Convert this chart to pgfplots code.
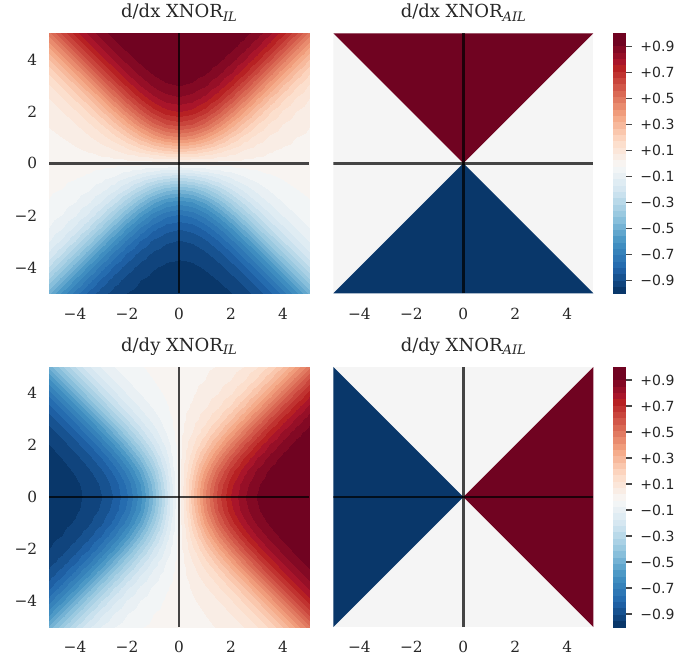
\documentclass[border=0pt]{standalone}
\usepackage{fontspec}
\setmainfont{DejaVu Serif}
\setsansfont{DejaVu Sans}
\usepackage{pgfplots}
\usepackage{pgfplotstable}
\pgfplotsset{compat=1.18}
\definecolor{txt}{RGB}{38,38,38}
\definecolor{cpos}{RGB}{112,3,33}
\definecolor{cneg}{RGB}{9,55,106}
\definecolor{czero}{RGB}{245,245,245}
\newcommand{\sub}[1]{\raisebox{-2.5pt}{\fontsize{9.8}{10}\selectfont\itshape #1}}
\pgfplotsset{
 colormap={rdbu}{rgb255=(9,55,106) rgb255=(16,68,125) rgb255=(23,82,144) rgb255=(30,95,163)
  rgb255=(37,108,175) rgb255=(46,119,181) rgb255=(54,130,186) rgb255=(63,141,192)
  rgb255=(77,153,198) rgb255=(97,166,205) rgb255=(116,178,212) rgb255=(136,191,219)
  rgb255=(154,201,224) rgb255=(170,209,229) rgb255=(185,217,233) rgb255=(201,225,238)
  rgb255=(214,231,241) rgb255=(223,236,243) rgb255=(233,240,244) rgb255=(242,245,246)
  rgb255=(248,244,241) rgb255=(249,237,229) rgb255=(251,230,217) rgb255=(252,223,205)
  rgb255=(252,212,190) rgb255=(250,199,173) rgb255=(247,185,156) rgb255=(245,172,139)
  rgb255=(240,156,123) rgb255=(233,139,110) rgb255=(225,122,97) rgb255=(218,105,84)
  rgb255=(210,87,73) rgb255=(201,69,60) rgb255=(192,51,48) rgb255=(183,33,35)
  rgb255=(169,21,42) rgb255=(150,15,39) rgb255=(131,9,36) rgb255=(112,3,33)
  rgb255=(112,3,33)},
 panel/.style={scale only axis, width=195pt, height=195pt,
  xmin=-5, xmax=5, ymin=-5, ymax=5,
  axis line style={draw=none}, tick style={draw=none},
  xtick={-4,-2,0,2,4}, xticklabels={−4,−2,0,2,4},
  ytick={-4,-2,0,2,4}, yticklabels={−4,−2,0,2,4},
  ticklabel style={font=\fontsize{11.5}{13}\selectfont, text=txt},
  xticklabel style={yshift=-7.3pt},
  yticklabel style={xshift=-5.3pt},
  title style={at={(0.5,1)}, anchor=base, yshift=5.7pt, font=\fontsize{13.5}{16}\selectfont, text=txt},
  colormap name=rdbu, colormap access=piecewise constant,
  point meta min=-1, point meta max=1},
 axl/.style={black, opacity=0.72, line width=1.8pt},
 cbar/.style={scale only axis, width=9.3pt, height=195pt,
  xmin=0, xmax=1, ymin=-1, ymax=1,
  axis line style={draw=none}, xtick=\empty,
  ytick={-0.9,-0.7,-0.5,-0.3,-0.1,0.1,0.3,0.5,0.7,0.9},
  yticklabels={−0.9,−0.7,−0.5,−0.3,−0.1,+0.1,+0.3,+0.5,+0.7,+0.9},
  ytick pos=right, yticklabel pos=right, tick align=outside,
  major tick length=4.5pt, tick style={color=txt!85, line width=0.9pt},
  yticklabel style={font=\sffamily\fontsize{10.5}{12}\selectfont, text=txt, xshift=3pt},
  colormap name=rdbu, colormap access=piecewise constant,
  point meta min=-1, point meta max=1}
}
\pgfplotstableread[row sep=\\]{
x y z\\
-5 -5 -0.500\\-4.5 -5 -0.622\\-4 -5 -0.731\\-3.5 -5 -0.817\\-3 -5 -0.880\\-2.5 -5 -0.924\\-2 -5 -0.952\\-1.5 -5 -0.969\\-1 -5 -0.980\\-0.5 -5 -0.985\\0 -5 -0.987\\0.5 -5 -0.985\\1 -5 -0.980\\1.5 -5 -0.969\\2 -5 -0.952\\2.5 -5 -0.924\\3 -5 -0.880\\3.5 -5 -0.817\\4 -5 -0.731\\4.5 -5 -0.622\\5 -5 -0.500\\
-5 -4.5 -0.377\\-4.5 -4.5 -0.500\\-4 -4.5 -0.622\\-3.5 -4.5 -0.731\\-3 -4.5 -0.817\\-2.5 -4.5 -0.880\\-2 -4.5 -0.923\\-1.5 -4.5 -0.950\\-1 -4.5 -0.967\\-0.5 -4.5 -0.975\\0 -4.5 -0.978\\0.5 -4.5 -0.975\\1 -4.5 -0.967\\1.5 -4.5 -0.950\\2 -4.5 -0.923\\2.5 -4.5 -0.880\\3 -4.5 -0.817\\3.5 -4.5 -0.731\\4 -4.5 -0.622\\4.5 -4.5 -0.500\\5 -4.5 -0.377\\
-5 -4 -0.269\\-4.5 -4 -0.377\\-4 -4 -0.500\\-3.5 -4 -0.622\\-3 -4 -0.730\\-2.5 -4 -0.816\\-2 -4 -0.878\\-1.5 -4 -0.920\\-1 -4 -0.946\\-0.5 -4 -0.960\\0 -4 -0.964\\0.5 -4 -0.960\\1 -4 -0.946\\1.5 -4 -0.920\\2 -4 -0.878\\2.5 -4 -0.816\\3 -4 -0.730\\3.5 -4 -0.622\\4 -4 -0.500\\4.5 -4 -0.377\\5 -4 -0.269\\
-5 -3.5 -0.182\\-4.5 -3.5 -0.269\\-4 -3.5 -0.377\\-3.5 -3.5 -0.499\\-3 -3.5 -0.621\\-2.5 -3.5 -0.729\\-2 -3.5 -0.814\\-1.5 -3.5 -0.874\\-1 -3.5 -0.913\\-0.5 -3.5 -0.935\\0 -3.5 -0.941\\0.5 -3.5 -0.935\\1 -3.5 -0.913\\1.5 -3.5 -0.874\\2 -3.5 -0.814\\2.5 -3.5 -0.729\\3 -3.5 -0.621\\3.5 -3.5 -0.499\\4 -3.5 -0.377\\4.5 -3.5 -0.269\\5 -3.5 -0.182\\
-5 -3 -0.119\\-4.5 -3 -0.182\\-4 -3 -0.268\\-3.5 -3 -0.376\\-3 -3 -0.498\\-2.5 -3 -0.618\\-2 -3 -0.724\\-1.5 -3 -0.807\\-1 -3 -0.863\\-0.5 -3 -0.895\\0 -3 -0.905\\0.5 -3 -0.895\\1 -3 -0.863\\1.5 -3 -0.807\\2 -3 -0.724\\2.5 -3 -0.618\\3 -3 -0.498\\3.5 -3 -0.376\\4 -3 -0.268\\4.5 -3 -0.182\\5 -3 -0.119\\
-5 -2.5 -0.075\\-4.5 -2.5 -0.118\\-4 -2.5 -0.181\\-3.5 -2.5 -0.266\\-3 -2.5 -0.373\\-2.5 -2.5 -0.493\\-2 -2.5 -0.611\\-1.5 -2.5 -0.713\\-1 -2.5 -0.788\\-0.5 -2.5 -0.833\\0 -2.5 -0.848\\0.5 -2.5 -0.833\\1 -2.5 -0.788\\1.5 -2.5 -0.713\\2 -2.5 -0.611\\2.5 -2.5 -0.493\\3 -2.5 -0.373\\3.5 -2.5 -0.266\\4 -2.5 -0.181\\4.5 -2.5 -0.118\\5 -2.5 -0.075\\
-5 -2 -0.047\\-4.5 -2 -0.074\\-4 -2 -0.117\\-3.5 -2 -0.178\\-3 -2 -0.262\\-2.5 -2 -0.367\\-2 -2 -0.482\\-1.5 -2 -0.593\\-1 -2 -0.684\\-0.5 -2 -0.742\\0 -2 -0.762\\0.5 -2 -0.742\\1 -2 -0.684\\1.5 -2 -0.593\\2 -2 -0.482\\2.5 -2 -0.367\\3 -2 -0.262\\3.5 -2 -0.178\\4 -2 -0.117\\4.5 -2 -0.074\\5 -2 -0.047\\
-5 -1.5 -0.028\\-4.5 -1.5 -0.045\\-4 -1.5 -0.072\\-3.5 -1.5 -0.113\\-3 -1.5 -0.171\\-2.5 -1.5 -0.251\\-2 -1.5 -0.348\\-1.5 -1.5 -0.453\\-1 -1.5 -0.547\\-0.5 -1.5 -0.612\\0 -1.5 -0.635\\0.5 -1.5 -0.612\\1 -1.5 -0.547\\1.5 -1.5 -0.453\\2 -1.5 -0.348\\2.5 -1.5 -0.251\\3 -1.5 -0.171\\3.5 -1.5 -0.113\\4 -1.5 -0.072\\4.5 -1.5 -0.045\\5 -1.5 -0.028\\
-5 -1 -0.016\\-4.5 -1 -0.025\\-4 -1 -0.041\\-3.5 -1 -0.065\\-3 -1 -0.101\\-2.5 -1 -0.153\\-2 -1 -0.222\\-1.5 -1 -0.302\\-1 -1 -0.381\\-0.5 -1 -0.440\\0 -1 -0.462\\0.5 -1 -0.440\\1 -1 -0.381\\1.5 -1 -0.302\\2 -1 -0.222\\2.5 -1 -0.153\\3 -1 -0.101\\3.5 -1 -0.065\\4 -1 -0.041\\4.5 -1 -0.025\\5 -1 -0.016\\
-5 -0.5 -0.007\\-4.5 -0.5 -0.011\\-4 -0.5 -0.018\\-3.5 -0.5 -0.029\\-3 -0.5 -0.047\\-2.5 -0.5 -0.072\\-2 -0.5 -0.107\\-1.5 -0.5 -0.150\\-1 -0.5 -0.195\\-0.5 -0.5 -0.231\\0 -0.5 -0.245\\0.5 -0.5 -0.231\\1 -0.5 -0.195\\1.5 -0.5 -0.150\\2 -0.5 -0.107\\2.5 -0.5 -0.072\\3 -0.5 -0.047\\3.5 -0.5 -0.029\\4 -0.5 -0.018\\4.5 -0.5 -0.011\\5 -0.5 -0.007\\
-5 0 0\\-4.5 0 0\\-4 0 0\\-3.5 0 0\\-3 0 0\\-2.5 0 0\\-2 0 0\\-1.5 0 0\\-1 0 0\\-0.5 0 0\\0 0 0\\0.5 0 0\\1 0 0\\1.5 0 0\\2 0 0\\2.5 0 0\\3 0 0\\3.5 0 0\\4 0 0\\4.5 0 0\\5 0 0\\
-5 0.5 0.007\\-4.5 0.5 0.011\\-4 0.5 0.018\\-3.5 0.5 0.029\\-3 0.5 0.047\\-2.5 0.5 0.072\\-2 0.5 0.107\\-1.5 0.5 0.150\\-1 0.5 0.195\\-0.5 0.5 0.231\\0 0.5 0.245\\0.5 0.5 0.231\\1 0.5 0.195\\1.5 0.5 0.150\\2 0.5 0.107\\2.5 0.5 0.072\\3 0.5 0.047\\3.5 0.5 0.029\\4 0.5 0.018\\4.5 0.5 0.011\\5 0.5 0.007\\
-5 1 0.016\\-4.5 1 0.025\\-4 1 0.041\\-3.5 1 0.065\\-3 1 0.101\\-2.5 1 0.153\\-2 1 0.222\\-1.5 1 0.302\\-1 1 0.381\\-0.5 1 0.440\\0 1 0.462\\0.5 1 0.440\\1 1 0.381\\1.5 1 0.302\\2 1 0.222\\2.5 1 0.153\\3 1 0.101\\3.5 1 0.065\\4 1 0.041\\4.5 1 0.025\\5 1 0.016\\
-5 1.5 0.028\\-4.5 1.5 0.045\\-4 1.5 0.072\\-3.5 1.5 0.113\\-3 1.5 0.171\\-2.5 1.5 0.251\\-2 1.5 0.348\\-1.5 1.5 0.453\\-1 1.5 0.547\\-0.5 1.5 0.612\\0 1.5 0.635\\0.5 1.5 0.612\\1 1.5 0.547\\1.5 1.5 0.453\\2 1.5 0.348\\2.5 1.5 0.251\\3 1.5 0.171\\3.5 1.5 0.113\\4 1.5 0.072\\4.5 1.5 0.045\\5 1.5 0.028\\
-5 2 0.047\\-4.5 2 0.074\\-4 2 0.117\\-3.5 2 0.178\\-3 2 0.262\\-2.5 2 0.367\\-2 2 0.482\\-1.5 2 0.593\\-1 2 0.684\\-0.5 2 0.742\\0 2 0.762\\0.5 2 0.742\\1 2 0.684\\1.5 2 0.593\\2 2 0.482\\2.5 2 0.367\\3 2 0.262\\3.5 2 0.178\\4 2 0.117\\4.5 2 0.074\\5 2 0.047\\
-5 2.5 0.075\\-4.5 2.5 0.118\\-4 2.5 0.181\\-3.5 2.5 0.266\\-3 2.5 0.373\\-2.5 2.5 0.493\\-2 2.5 0.611\\-1.5 2.5 0.713\\-1 2.5 0.788\\-0.5 2.5 0.833\\0 2.5 0.848\\0.5 2.5 0.833\\1 2.5 0.788\\1.5 2.5 0.713\\2 2.5 0.611\\2.5 2.5 0.493\\3 2.5 0.373\\3.5 2.5 0.266\\4 2.5 0.181\\4.5 2.5 0.118\\5 2.5 0.075\\
-5 3 0.119\\-4.5 3 0.182\\-4 3 0.268\\-3.5 3 0.376\\-3 3 0.498\\-2.5 3 0.618\\-2 3 0.724\\-1.5 3 0.807\\-1 3 0.863\\-0.5 3 0.895\\0 3 0.905\\0.5 3 0.895\\1 3 0.863\\1.5 3 0.807\\2 3 0.724\\2.5 3 0.618\\3 3 0.498\\3.5 3 0.376\\4 3 0.268\\4.5 3 0.182\\5 3 0.119\\
-5 3.5 0.182\\-4.5 3.5 0.269\\-4 3.5 0.377\\-3.5 3.5 0.499\\-3 3.5 0.621\\-2.5 3.5 0.729\\-2 3.5 0.814\\-1.5 3.5 0.874\\-1 3.5 0.913\\-0.5 3.5 0.935\\0 3.5 0.941\\0.5 3.5 0.935\\1 3.5 0.913\\1.5 3.5 0.874\\2 3.5 0.814\\2.5 3.5 0.729\\3 3.5 0.621\\3.5 3.5 0.499\\4 3.5 0.377\\4.5 3.5 0.269\\5 3.5 0.182\\
-5 4 0.269\\-4.5 4 0.377\\-4 4 0.500\\-3.5 4 0.622\\-3 4 0.730\\-2.5 4 0.816\\-2 4 0.878\\-1.5 4 0.920\\-1 4 0.946\\-0.5 4 0.960\\0 4 0.964\\0.5 4 0.960\\1 4 0.946\\1.5 4 0.920\\2 4 0.878\\2.5 4 0.816\\3 4 0.730\\3.5 4 0.622\\4 4 0.500\\4.5 4 0.377\\5 4 0.269\\
-5 4.5 0.377\\-4.5 4.5 0.500\\-4 4.5 0.622\\-3.5 4.5 0.731\\-3 4.5 0.817\\-2.5 4.5 0.880\\-2 4.5 0.923\\-1.5 4.5 0.950\\-1 4.5 0.967\\-0.5 4.5 0.975\\0 4.5 0.978\\0.5 4.5 0.975\\1 4.5 0.967\\1.5 4.5 0.950\\2 4.5 0.923\\2.5 4.5 0.880\\3 4.5 0.817\\3.5 4.5 0.731\\4 4.5 0.622\\4.5 4.5 0.500\\5 4.5 0.377\\
-5 5 0.500\\-4.5 5 0.622\\-4 5 0.731\\-3.5 5 0.817\\-3 5 0.880\\-2.5 5 0.924\\-2 5 0.952\\-1.5 5 0.969\\-1 5 0.980\\-0.5 5 0.985\\0 5 0.987\\0.5 5 0.985\\1 5 0.980\\1.5 5 0.969\\2 5 0.952\\2.5 5 0.924\\3 5 0.880\\3.5 5 0.817\\4 5 0.731\\4.5 5 0.622\\5 5 0.500\\
}\tbl
\begin{document}
\begin{tikzpicture}
\path[use as bounding box] (0,0) rectangle (512.25pt,493.5pt);
% top left
\begin{axis}[panel, at={(36.75pt,273.5pt)}, anchor=south west, title={d/dx XNOR\sub{IL}}]
\addplot[surf, shader=interp, mesh/rows=21, mesh/cols=21, point meta=\thisrow{z}] table[x=x, y=y] {\tbl};
\addplot[axl] coordinates {(-5,0) (5,0)};
\addplot[axl] coordinates {(0,-5) (0,5)};
\end{axis}
% top right
\begin{axis}[panel, at={(250pt,273.5pt)}, anchor=south west, ytick=\empty, title={d/dx XNOR\sub{AIL}}]
\addplot[fill=czero, draw=none] coordinates {(-5,-5) (5,-5) (5,5) (-5,5)} -- cycle;
\addplot[fill=cpos, draw=none] coordinates {(-5,5) (5,5) (0,0)} -- cycle;
\addplot[fill=cneg, draw=none] coordinates {(-5,-5) (5,-5) (0,0)} -- cycle;
\addplot[axl] coordinates {(-5,0) (5,0)};
\addplot[axl] coordinates {(0,-5) (0,5)};
\end{axis}
\begin{axis}[cbar, at={(460pt,273.5pt)}, anchor=south west]
\addplot[patch, shader=interp, point meta=explicit] coordinates {(0,-1) [-1] (1,-1) [-1] (1,1) [1] (0,-1) [-1] (1,1) [1] (0,1) [1]};
\end{axis}
% bottom left
\begin{axis}[panel, at={(36.75pt,23.25pt)}, anchor=south west, title={d/dy XNOR\sub{IL}}]
\addplot[surf, shader=interp, mesh/rows=21, mesh/cols=21, point meta=\thisrow{z}] table[x=y, y=x] {\tbl};
\addplot[axl] coordinates {(-5,0) (5,0)};
\addplot[axl] coordinates {(0,-5) (0,5)};
\end{axis}
% bottom right
\begin{axis}[panel, at={(250pt,23.25pt)}, anchor=south west, ytick=\empty, title={d/dy XNOR\sub{AIL}}]
\addplot[fill=czero, draw=none] coordinates {(-5,-5) (5,-5) (5,5) (-5,5)} -- cycle;
\addplot[fill=cneg, draw=none] coordinates {(-5,5) (-5,-5) (0,0)} -- cycle;
\addplot[fill=cpos, draw=none] coordinates {(5,5) (5,-5) (0,0)} -- cycle;
\addplot[axl] coordinates {(-5,0) (5,0)};
\addplot[axl] coordinates {(0,-5) (0,5)};
\end{axis}
\begin{axis}[cbar, at={(460pt,23.25pt)}, anchor=south west]
\addplot[patch, shader=interp, point meta=explicit] coordinates {(0,-1) [-1] (1,-1) [-1] (1,1) [1] (0,-1) [-1] (1,1) [1] (0,1) [1]};
\end{axis}
\end{tikzpicture}
\end{document}
